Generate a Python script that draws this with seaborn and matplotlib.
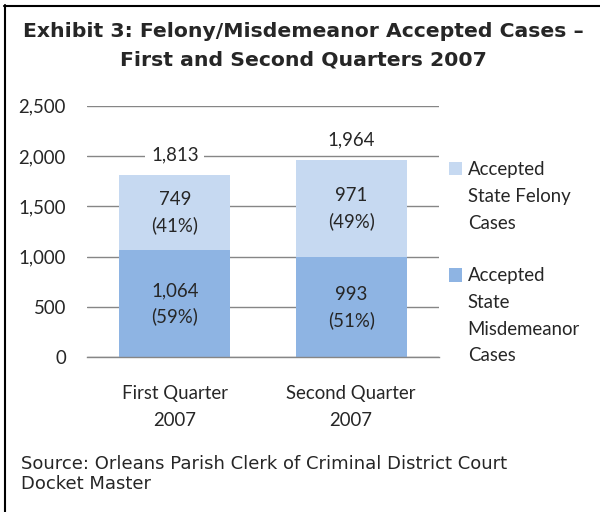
import matplotlib
matplotlib.use("Agg")
import matplotlib.pyplot as plt
import seaborn as sns
import pandas as pd
from matplotlib.lines import Line2D
from matplotlib.patches import Rectangle
from matplotlib.ticker import FuncFormatter

# ---- data ----
quarters = ["First Quarter\n2007", "Second Quarter\n2007"]
felony = [749, 971]
misdemeanor = [1064, 993]
felony_pct = [41, 49]
misdemeanor_pct = [59, 51]
series_names = ["Accepted\nState Felony\nCases", "Accepted\nState\nMisdemeanor\nCases"]
title_lines = ["Exhibit 3: Felony/Misdemeanor Accepted Cases \u2013",
               "First and Second Quarters 2007"]
source_lines = ["Source: Orleans Parish Clerk of Criminal District Court",
                "Docket Master"]
yticks = [0, 500, 1000, 1500, 2000, 2500]

LIGHT = "#C6D9F1"
DARK = "#8EB4E3"
GRID = "#868686"
W, H = 600, 512

sns.set_style("white")
plt.rcParams["font.family"] = ["Lato", "DejaVu Sans"]

totals = [f + m for f, m in zip(felony, misdemeanor)]
df = pd.DataFrame({"quarter": quarters, "felony": felony,
                   "misd": misdemeanor, "total": totals})

fig = plt.figure(figsize=(W / 100, H / 100), dpi=100)
ax = fig.add_axes([86.7 / W, 1 - 357.3 / H, (439.3 - 86.7) / W, 251.6 / H])

sns.barplot(data=df, x="quarter", y="total", color=LIGHT, width=0.63,
            saturation=1, errorbar=None, ax=ax, linewidth=0, zorder=2)
sns.barplot(data=df, x="quarter", y="misd", color=DARK, width=0.63,
            saturation=1, errorbar=None, ax=ax, linewidth=0, zorder=2)

ax.set_xlim(-0.5, 1.5)
ax.set_ylim(0, 2500)
ax.set_yticks(yticks)
ax.yaxis.set_major_formatter(FuncFormatter(lambda v, p: f"{v:,.0f}"))
ax.set_xlabel("")
ax.set_ylabel("")
ax.yaxis.grid(True, color=GRID, lw=1)
ax.xaxis.grid(False)
ax.set_axisbelow(True)
for s in ["left", "top", "right"]:
    ax.spines[s].set_visible(False)
ax.spines["bottom"].set_color(GRID)
ax.spines["bottom"].set_linewidth(1)

FS = 13.4
LS_PLAIN = 1.7
LS_PAREN = 1.55
ax.set_xticks([0, 1])
ax.set_xticklabels(quarters, fontsize=FS, linespacing=LS_PLAIN)
ax.set_xticks([-0.5, 0.5, 1.5], minor=True)
ax.tick_params(axis="x", which="major", length=0, pad=20)
ax.tick_params(axis="x", which="minor", length=6, width=1, color=GRID, direction="out")
ax.tick_params(axis="y", length=0, pad=15, labelsize=FS)

for i in range(len(quarters)):
    m, f = misdemeanor[i], felony[i]
    ax.text(i, m / 2, f"{m:,}\n({misdemeanor_pct[i]}%)", ha="center", va="center",
            fontsize=FS, linespacing=LS_PAREN, zorder=4)
    ax.text(i, m + f / 2, f"{f:,}\n({felony_pct[i]}%)", ha="center", va="center",
            fontsize=FS, linespacing=LS_PAREN, zorder=4)
    ax.annotate(f"{totals[i]:,}", xy=(i, totals[i]), xytext=(0, 20),
                textcoords="offset pixels", ha="center", va="center", fontsize=FS,
                bbox=dict(boxstyle="square,pad=0.3", fc="white", ec="none"), zorder=4)

# legend (manual, square aligned with first line)
leg_colors = [LIGHT, DARK]
leg_sq_top = [161.7, 268.3]
leg_text_top = [161.0, 267.0]
for c, t, tt, name in zip(leg_colors, leg_sq_top, leg_text_top, series_names):
    fig.add_artist(Rectangle((449 / W, 1 - (t + 13.3) / H), 13.3 / W, 13.3 / H,
                             transform=fig.transFigure, fc=c, ec="none"))
    fig.text(467.7 / W, 1 - tt / H, name, ha="left", va="top",
             fontsize=FS, linespacing=LS_PLAIN)

# title
title_base = [37.0, 65.0]
for line, b in zip(title_lines, title_base):
    fig.text(303 / W, 1 - b / H, line, ha="center", va="baseline",
             fontsize=14.7, fontweight="bold", family="DejaVu Sans")

# source
source_base = [469.3, 489.3]
for line, b in zip(source_lines, source_base):
    fig.text(21 / W, 1 - b / H, line, ha="left", va="baseline",
             fontsize=13, family="DejaVu Sans")

# border
fig.add_artist(Line2D([5 / W, 5 / W], [0, 1 - 5 / H], transform=fig.transFigure,
                      color="black", lw=1.5))
fig.add_artist(Line2D([4 / W, 1], [1 - 6 / H, 1 - 6 / H], transform=fig.transFigure,
                      color="black", lw=1.5))

fig.savefig("out.png", dpi=100)
